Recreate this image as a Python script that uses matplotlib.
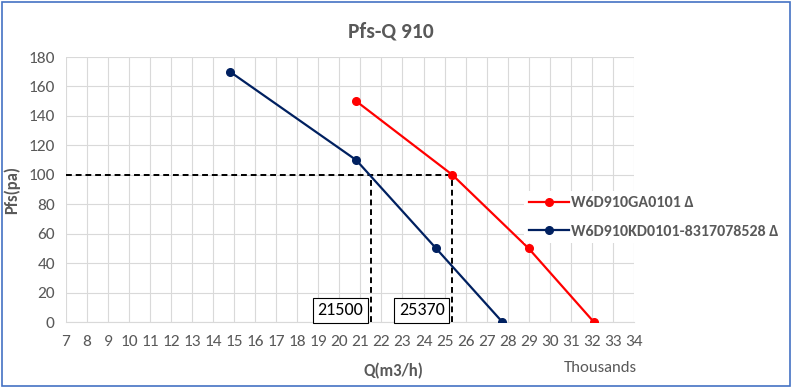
import matplotlib
matplotlib.use("Agg")
import matplotlib.pyplot as plt
from matplotlib.patches import Rectangle

plt.rcParams['font.family'] = ['Carlito', 'Liberation Sans', 'DejaVu Sans']

# data (Q in thousands of m3/h, Pfs in Pa)
ga_q = [20.8, 25.37, 29.0, 32.1]
ga_p = [150, 100, 50, 0]
kd_q = [14.8, 20.8, 24.6, 27.75]
kd_p = [170, 110, 50, 0]
ga_name = "W6D910GA0101 Δ"
kd_name = "W6D910KD0101-8317078528 Δ"
op_p = 100
op_q = [21.5, 25.37]
op_labels = ["21500", "25370"]

gray = "#595959"
grid = "#D9D9D9"

fig = plt.figure(figsize=(7.92, 3.88), dpi=100)
fig.patches.append(Rectangle((0.003, 0.004), 0.994, 0.99, transform=fig.transFigure,
                             fill=False, edgecolor="#4472C4", linewidth=1.2))
ax = fig.add_axes([0.0833, 0.170, 0.717, 0.683])

ax.plot(ga_q, ga_p, color="#FF0000", lw=1.6, marker="o", ms=5.5, label=ga_name, zorder=4)
ax.plot(kd_q, kd_p, color="#002060", lw=1.6, marker="o", ms=5.5, label=kd_name, zorder=4)

# operating point guides
ax.plot([7, op_q[1]], [op_p, op_p], color="black", ls=(0, (3, 2)), lw=1.4, zorder=3)
for q in op_q:
    ax.plot([q, q], [0, op_p], color="black", ls=(0, (3, 2)), lw=1.4, zorder=3)

for q, lab in zip(op_q, op_labels):
    ax.text(q - 1.45, 8.0, lab, ha="center", va="center", fontsize=13, color="black",
            bbox=dict(boxstyle="square,pad=0.25", fc="white", ec="black", lw=0.8), zorder=5)

ax.set_xlim(7, 34)
ax.set_ylim(0, 180)
ax.set_xticks(range(7, 35))
ax.set_yticks(range(0, 181, 20))
ax.grid(True, color=grid, lw=0.8)
ax.set_axisbelow(True)
for s in ["top", "right", "left"]:
    ax.spines[s].set_visible(False)
ax.spines["bottom"].set_color(grid)
ax.tick_params(length=0, colors=gray, labelsize=12.5, pad=9)
ax.tick_params(axis="y", pad=8)

fig.text(0.494, 0.918, "Pfs-Q 910", fontsize=15.5, fontweight="bold", color=gray,
         ha="center", va="center")
ax.set_xlabel("Q(m3/h)", fontsize=12, fontweight="bold", color=gray)
ax.xaxis.set_label_coords(0.576, -0.155)
ax.set_ylabel("Pfs(pa)", fontsize=12, fontweight="bold", color=gray, labelpad=6)
fig.text(0.758, 0.04, "Thousands", fontsize=12, color=gray, ha="center")

leg = fig.legend(loc="center left", bbox_to_anchor=(0.662, 0.44), frameon=True,
                 facecolor="white", edgecolor="none", framealpha=1, fancybox=False,
                 borderaxespad=0, borderpad=0.3,
                 labelspacing=0.9, handlelength=2.5, handletextpad=0.15,
                 prop=dict(size=11.5, weight="bold"))
for t in leg.get_texts():
    t.set_color(gray)

fig.savefig("out.png", dpi=100)
